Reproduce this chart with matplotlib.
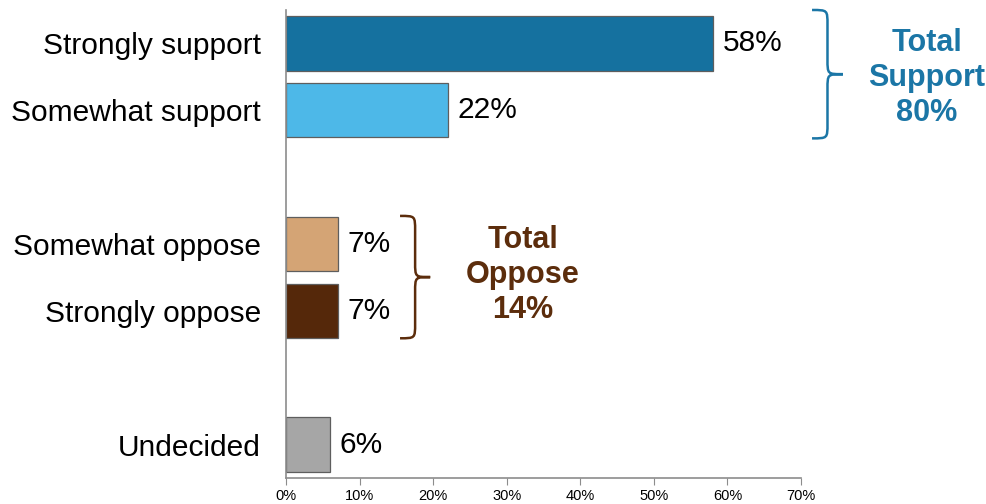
import numpy as np
import matplotlib.pyplot as plt
from matplotlib.path import Path
from matplotlib.patches import PathPatch

plt.rcParams['font.family'] = ['Liberation Sans', 'DejaVu Sans']

categories = ['Strongly support', 'Somewhat support', 'Somewhat oppose', 'Strongly oppose', 'Undecided']
values = [58, 22, 7, 7, 6]
positions = [0, 1, 3, 4, 6]
colors = ['#15719f', '#4db8e8', '#d4a475', '#55280a', '#a6a6a6']

support_label = 'Total\nSupport\n80%'
oppose_label = 'Total\nOppose\n14%'
support_color = '#1b76a6'
oppose_color = '#5c2d0c'

fig = plt.figure(figsize=(9.87, 5.04), dpi=100)
ax = fig.add_axes([286 / 987, 1 - 478 / 504, 515 / 987, 468 / 504])

ax.barh(positions, values, height=0.81, color=colors, edgecolor='#5e5e5e', linewidth=0.9)

for p, v in zip(positions, values):
    ax.annotate(f'{v}%', (v, p), xytext=(7, 0), textcoords='offset points',
                va='center', ha='left', fontsize=21.5)

ax.set_xlim(0, 70)
ax.set_ylim(6.5, -0.5)
ax.set_xticks(np.arange(0, 71, 10))
ax.set_xticklabels([f'{t}%' for t in range(0, 71, 10)], fontsize=10.5)
ax.set_yticks(positions)
ax.set_yticklabels(categories, fontsize=21.5)
ax.tick_params(axis='y', length=0, pad=18)
ax.tick_params(axis='x', length=5, color='#8c8c8c', pad=3)
for s in ['top', 'right']:
    ax.spines[s].set_visible(False)
for s in ['left', 'bottom']:
    ax.spines[s].set_color('#8c8c8c')
    ax.spines[s].set_linewidth(1.2)


def brace(x0, x1, y0, y1, color):
    # curly brace opening to the left, tip pointing right at x1
    xm = (x0 + x1) / 2
    ym = (y0 + y1) / 2
    r = 0.22
    verts = [(x0, y0),
             (xm, y0), (xm, y0), (xm, y0 + r),
             (xm, ym - r),
             (xm, ym), (xm, ym), (x1, ym),
             (xm, ym), (xm, ym), (xm, ym + r),
             (xm, y1 - r),
             (xm, y1), (xm, y1), (x0, y1)]
    codes = [Path.MOVETO,
             Path.CURVE4, Path.CURVE4, Path.CURVE4,
             Path.LINETO,
             Path.CURVE4, Path.CURVE4, Path.CURVE4,
             Path.CURVE4, Path.CURVE4, Path.CURVE4,
             Path.LINETO,
             Path.CURVE4, Path.CURVE4, Path.CURVE4]
    ax.add_patch(PathPatch(Path(verts, codes), fill=False, edgecolor=color,
                           linewidth=1.8, clip_on=False))


brace(71.5, 75.7, -0.5, 1.42, support_color)
brace(15.5, 19.6, 2.58, 4.41, oppose_color)

ax.text(87.1, 0.52, support_label, ha='center', va='center', fontsize=22,
        fontweight='bold', color=support_color, linespacing=1.22, clip_on=False)
ax.text(32.2, 3.46, oppose_label, ha='center', va='center', fontsize=22,
        fontweight='bold', color=oppose_color, linespacing=1.22, clip_on=False)

fig.savefig('out.png', dpi=100)
